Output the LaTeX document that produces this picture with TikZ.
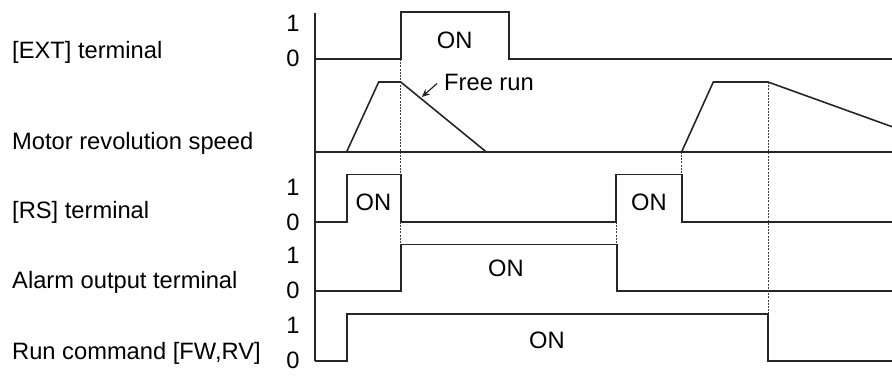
\documentclass[tikz,border=0pt]{standalone}
\usepackage{fontspec}
\setmainfont{Liberation Sans}
\usetikzlibrary{arrows.meta}
\begin{document}
\begin{tikzpicture}[x=1pt,y=-1pt,
  sig/.style={draw=black!85, line width=1.6pt, line join=miter},
  guide/.style={draw=black!75, line width=0.8pt, dash pattern=on 2pt off 1.2pt},
  lbl/.style={anchor=west, inner sep=0pt, font=\fontsize{23.7}{28}\selectfont},
  lvl/.style={inner sep=0pt, font=\fontsize{23.7}{28}\selectfont},
  ontxt/.style={inner sep=0pt, font=\fontsize{23.7}{28}\selectfont}]
\useasboundingbox (0,0) rectangle (892,381);
% left labels
\node[lbl] (lext) at (12,52) {[EXT] terminal};
\node[lbl] (lmot) at (12,143) {Motor revolution speed};
\node[lbl] (lrs) at (12,212) {[RS] terminal};
\node[lbl] (lal) at (12,282) {Alarm output terminal};
\node[lbl] (lrun) at (12,353) {Run command [FW,RV]};
% level numbers
\node[lvl] (e1) at (293,23) {1};
\node[lvl] (e0) at (293,58) {0};
\node[lvl] (r1) at (293,187) {1};
\node[lvl] (r0) at (293,222) {0};
\node[lvl] (a1) at (293,255) {1};
\node[lvl] (a0) at (293,290) {0};
\node[lvl] (c1) at (293,325) {1};
\node[lvl] (c0) at (293,360) {0};
% guides (dashed)
\draw[guide] (400.7,59) -- (400.7,174.3);
\draw[guide] (400.7,221.7) -- (400.7,244.3);
\draw[guide] (681.7,151.7) -- (681.7,174.3);
\draw[guide] (616.7,221.7) -- (616.7,244.3);
\draw[guide] (768,82) -- (768,314);
% axis
\draw[sig] (315,12.7) -- (315,360.7);
% EXT
\draw[sig] (315,59) -- (400.7,59) -- (400.7,12) -- (508.7,12) -- (508.7,59) -- (892,59);
\node[ontxt] (onext) at (454.7,40) {ON};
% Motor
\draw[sig] (315,151.7) -- (892,151.7);
\draw[sig] (346.7,151.7) -- (378.7,82) -- (400.7,82) -- (486,151.7);
\draw[sig] (681.7,151.7) -- (713.3,82) -- (768,82) -- (892,126.7);
\node[lbl] (free) at (444,82) {Free run};
\coordinate (freetip) at (421.8,97);
\draw[draw=black!85, line width=1.2pt, -{Stealth[length=8pt,width=7pt]}] (437,83.5) -- (freetip);
% RS
\draw[sig] (315,221.7) -- (346.7,221.7) -- (346.7,174.3) -- (400.7,174.3) -- (400.7,221.7)
  -- (616,221.7) -- (616,174.3) -- (681.7,174.3) -- (681.7,221.7) -- (892,221.7);
\node[ontxt] (onrs1) at (373.5,202) {ON};
\node[ontxt] (onrs2) at (649,202) {ON};
% Alarm
\draw[sig] (315,290.7) -- (400.7,290.7) -- (400.7,244.3) -- (616.7,244.3) -- (616.7,290.7) -- (892,290.7);
\node[ontxt] (onal) at (506,268) {ON};
% Run
\draw[sig] (315,360.7) -- (346.7,360.7) -- (346.7,314) -- (768,314) -- (768,360.7) -- (892,360.7);
\node[ontxt] (onrun) at (547,340) {ON};
\end{tikzpicture}
\end{document}
